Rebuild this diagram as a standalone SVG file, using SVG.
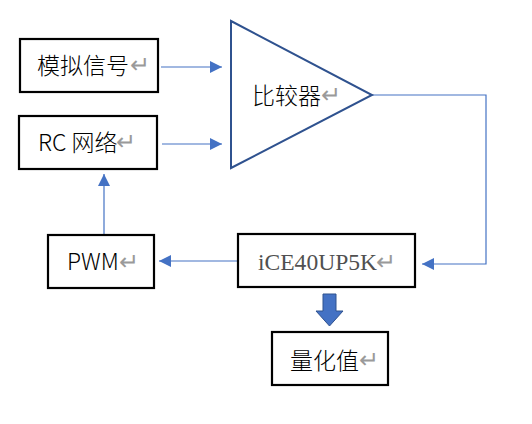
<svg xmlns="http://www.w3.org/2000/svg" width="532" height="424" viewBox="0 0 532 424">
<style>
.box{fill:#fff;stroke:#000;stroke-width:2.2}
.cjk{font-family:"Noto Sans CJK SC","Noto Sans",sans-serif;font-size:23px;font-weight:300;fill:#000}
.ret{font-family:"Noto Sans CJK SC","DejaVu Sans",sans-serif;font-size:24px;font-weight:300;fill:#9a9a9a}
.ln{fill:none;stroke:#4472c4;stroke-width:1.2}
</style>
<defs>
<marker id="ah" viewBox="0 0 10 10" refX="10" refY="5" markerWidth="13" markerHeight="12" markerUnits="userSpaceOnUse" orient="auto">
<path d="M0,0 L10,5 L0,10 Z" fill="#4472c4"/>
</marker>
</defs>
<rect width="532" height="424" fill="#fff"/>
<g id="connectors">
<line class="ln" x1="161" y1="67" x2="222" y2="67" marker-end="url(#ah)"/>
<line class="ln" x1="162" y1="144" x2="222" y2="144" marker-end="url(#ah)"/>
<polyline class="ln" points="372,95 486,95 486,264 422,264" marker-end="url(#ah)"/>
<line class="ln" x1="238" y1="261" x2="159" y2="261" marker-end="url(#ah)"/>
<line class="ln" x1="104" y1="235" x2="104" y2="174" marker-end="url(#ah)"/>
<path d="M323,294 L336,294 L336,311 L343,311 L329.5,326 L316,311 L323,311 Z" fill="#4472c4" stroke="#2f528f" stroke-width="1"/>
</g>
<g id="analog">
<rect class="box" x="20" y="39" width="138" height="53"/>
<text class="cjk" x="37" y="74">模拟信号</text>
<text class="ret" x="130" y="73">↵</text>
</g>
<g id="rc">
<rect class="box" x="19" y="116" width="138" height="53"/>
<text class="cjk" x="38" y="151">RC 网络</text>
<text class="ret" x="116" y="150">↵</text>
</g>
<g id="comparator">
<polygon points="231,21 372,95 231,168" fill="#fff" stroke="#2f528f" stroke-width="2"/>
<text class="cjk" x="252" y="104">比较器</text>
<text class="ret" x="321" y="103">↵</text>
</g>
<g id="ice">
<rect class="box" x="238" y="234" width="177" height="53"/>
<text x="258" y="270" font-family="Liberation Serif,serif" font-size="23" fill="#505050" textLength="119" lengthAdjust="spacingAndGlyphs">iCE40UP5K</text>
<text class="ret" x="376" y="270">↵</text>
</g>
<g id="pwm">
<rect class="box" x="48" y="235" width="106" height="53"/>
<text class="cjk" x="67" y="270">PWM</text>
<text class="ret" x="119" y="270">↵</text>
</g>
<g id="quant">
<rect class="box" x="272" y="332" width="116" height="53"/>
<text class="cjk" x="290" y="369">量化值</text>
<text class="ret" x="359" y="368">↵</text>
</g>
</svg>
